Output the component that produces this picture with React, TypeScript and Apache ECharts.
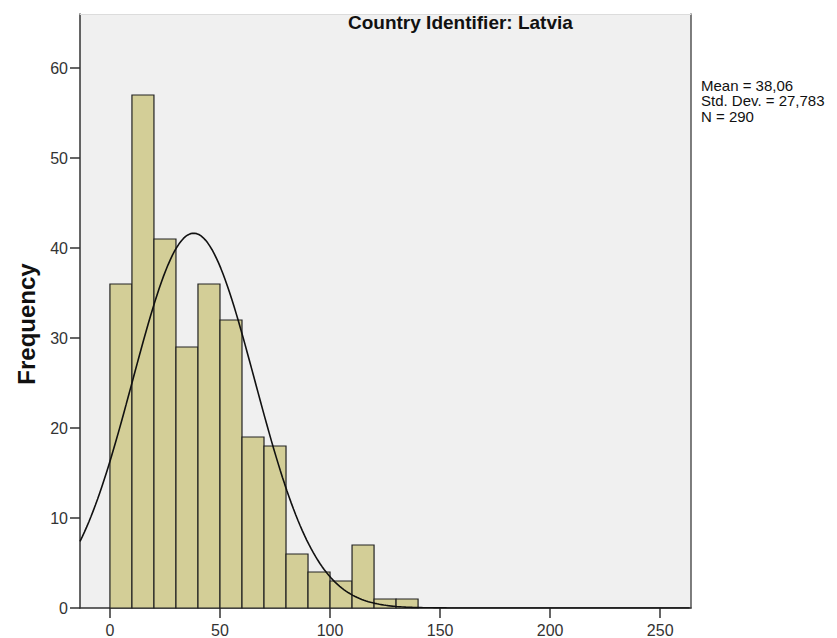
import React, { useEffect, useRef } from "react";
import * as echarts from "echarts";

const binStarts = [0, 10, 20, 30, 40, 50, 60, 70, 80, 90, 100, 110, 120, 130];
const binWidth = 10;
const frequencies = [36, 57, 41, 29, 36, 32, 19, 18, 6, 4, 3, 7, 1, 1];
const xTicks = [0, 50, 100, 150, 200, 250];
const yTicks = [0, 10, 20, 30, 40, 50, 60];
const statMean = 38.06;
const statSd = 27.783;
const statN = 290;
const statLines = ["Mean = 38,06", "Std. Dev. = 27,783", "N = 290"];
const title = "Country Identifier: Latvia";
const yTitle = "Frequency";

const X_MIN = -13.6;
const X_MAX = 264;

export default function App() {
  const ref = useRef<HTMLDivElement>(null);
  useEffect(() => {
    document.body.style.margin = "0";
    const chart = echarts.init(ref.current!, null, { renderer: "svg" });
    const bars = binStarts.map((s, i) => [s, s + binWidth, frequencies[i]]);
    const curve: number[][] = [];
    const k = (statN * binWidth) / (statSd * Math.sqrt(2 * Math.PI));
    for (let x = X_MIN; x <= X_MAX + 0.001; x += 1) {
      const z = (x - statMean) / statSd;
      curve.push([x, k * Math.exp(-0.5 * z * z)]);
    }
    const font = "Arial, 'Liberation Sans', sans-serif";
    const hiddenAxis = {
      splitLine: { show: false },
      axisTick: { show: false },
      axisLabel: { show: false },
    };
    chart.setOption({
      animation: false,
      grid: {
        left: 80,
        right: 146,
        top: 14,
        bottom: 30,
        show: true,
        backgroundColor: "#f0f0f0",
        borderWidth: 0,
      },
      title: {
        text: title,
        left: 343,
        top: 8,
        textStyle: { fontFamily: font, fontSize: 19, fontWeight: "bold", color: "#111" },
      },
      graphic: [
        ...statLines.map((t, i) => ({
          type: "text",
          x: 701,
          y: 85 + i * 15.5,
          style: { text: t, font: `15px ${font}`, fill: "#111", verticalAlign: "middle", align: "left" },
        })),
        {
          type: "text",
          x: 26,
          y: 324,
          rotation: Math.PI / 2,
          style: {
            text: yTitle,
            font: `bold 24px ${font}`,
            fill: "#111",
            align: "center",
            verticalAlign: "middle",
          },
        },
      ],
      xAxis: [
        {
          type: "value",
          min: X_MIN,
          max: X_MAX,
          splitLine: { show: false },
          axisLine: { show: true, onZero: false, lineStyle: { color: "#333", width: 1.5 } },
          axisTick: { show: true, customValues: xTicks, length: 10, lineStyle: { color: "#333", width: 1.5 } },
          axisLabel: {
            customValues: xTicks,
            fontFamily: font,
            fontSize: 16,
            color: "#333",
            margin: 14,
          },
        },
        {
          type: "value",
          position: "top",
          min: X_MIN,
          max: X_MAX,
          ...hiddenAxis,
          axisLine: { show: true, onZero: false, lineStyle: { color: "#dcdcdc", width: 1 } },
        },
      ],
      yAxis: [
        {
          type: "value",
          min: 0,
          max: 66,
          splitLine: { show: false },
          axisLine: { show: true, onZero: false, lineStyle: { color: "#333", width: 1.5 } },
          axisTick: { show: true, customValues: yTicks, length: 10, lineStyle: { color: "#333", width: 1.5 } },
          axisLabel: {
            customValues: yTicks,
            fontFamily: font,
            fontSize: 16,
            color: "#333",
            margin: 12,
          },
        },
        {
          type: "value",
          position: "right",
          min: 0,
          max: 66,
          ...hiddenAxis,
          axisLine: { show: true, onZero: false, lineStyle: { color: "#555", width: 1.5 } },
        },
      ],
      series: [
        {
          type: "custom",
          data: bars,
          renderItem: (params: any, api: any) => {
            const p0 = api.coord([api.value(0), 0]);
            const p1 = api.coord([api.value(1), api.value(2)]);
            return {
              type: "rect",
              shape: { x: p0[0], y: p1[1], width: p1[0] - p0[0], height: p0[1] - p1[1] },
              style: { fill: "#d3ce97", stroke: "#222", lineWidth: 1.2 },
            };
          },
          z: 2,
        },
        {
          type: "line",
          data: curve,
          showSymbol: false,
          smooth: false,
          lineStyle: { color: "#111", width: 1.6 },
          clip: true,
          z: 3,
        },
      ],
    });
    return () => chart.dispose();
  }, []);
  return <div ref={ref} style={{ width: 837, height: 638 }} />;
}
